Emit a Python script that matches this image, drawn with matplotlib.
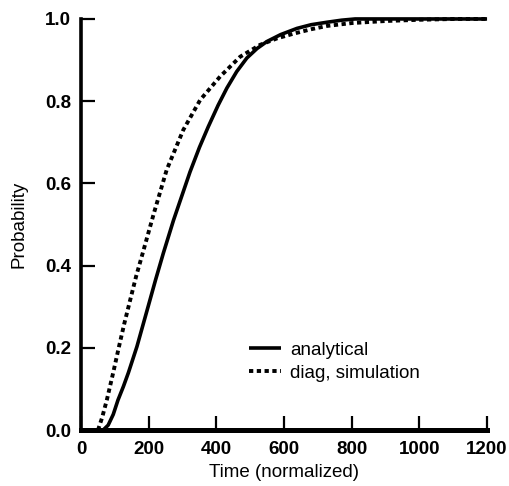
import matplotlib
matplotlib.use("Agg")
from matplotlib import pyplot as plt

# values
t_analytical = [65, 80, 95, 109, 125, 140, 165, 198, 220, 243, 273, 300, 322, 350, 376,
                405, 431, 460, 490, 520, 549, 590, 638, 680, 727, 770, 810, 900, 1000,
                1100, 1200]
p_analytical = [0.0, 0.012, 0.038, 0.073, 0.106, 0.14, 0.203, 0.30, 0.365, 0.43, 0.51,
                0.575, 0.628, 0.688, 0.738, 0.79, 0.832, 0.872, 0.905, 0.928, 0.945,
                0.962, 0.977, 0.986, 0.992, 0.997, 1.0, 1.0, 1.0, 1.0, 1.0]

t_sim = [50, 62, 76, 95, 112, 128, 145, 163, 182, 215, 253, 302, 352, 411, 470, 529,
         580, 627, 680, 727, 800, 900, 1000, 1105, 1200]
p_sim = [0.0, 0.03, 0.073, 0.14, 0.203, 0.26, 0.316, 0.375, 0.43, 0.527, 0.633, 0.730,
         0.803, 0.860, 0.908, 0.937, 0.953, 0.964, 0.975, 0.983, 0.990, 0.995, 0.998,
         1.0, 1.0]

x_ticks = [0, 200, 400, 600, 800, 1000, 1200]
y_ticks = [0.0, 0.2, 0.4, 0.6, 0.8, 1.0]


def main():
    plt.rcParams["font.family"] = ["Liberation Sans", "DejaVu Sans"]
    fig = plt.figure(figsize=(5.10, 4.86), dpi=100)
    ax = fig.add_axes([0.159, 0.115, 0.796, 0.846])

    ax.plot(t_analytical, p_analytical, "-", color="black", lw=2.6,
            label="analytical", clip_on=False, solid_capstyle="butt")
    ax.plot(t_sim, p_sim, color="black", lw=2.8, linestyle=(0, (1.1, 0.9)),
            label="diag, simulation", clip_on=False)

    ax.set_xlim(0, 1200)
    ax.set_ylim(0, 1.0)
    ax.set_xticks(x_ticks)
    ax.set_yticks(y_ticks)
    ax.set_xticklabels([str(v) for v in x_ticks], fontweight="bold", fontsize=13.5)
    ax.set_yticklabels(["%.1f" % v for v in y_ticks], fontweight="bold", fontsize=13.5)
    ax.tick_params(direction="in", length=10, width=1.6)
    ax.tick_params(axis="x", pad=8)
    ax.tick_params(axis="y", pad=7)

    for side in ["top", "right"]:
        ax.spines[side].set_visible(False)
    ax.spines["left"].set_linewidth(2.6)
    ax.spines["bottom"].set_linewidth(3.6)

    ax.set_xlabel("Time (normalized)", fontsize=13.5, labelpad=4)
    ax.set_ylabel("Probability", fontsize=13.5, labelpad=13)

    ax.legend(loc="lower left", bbox_to_anchor=(0.39, 0.095), frameon=False,
              fontsize=13.5, handlelength=1.7, handletextpad=0.5,
              borderpad=0, labelspacing=0.3)

    fig.savefig("out.png", dpi=100)


if __name__ == "__main__":
    main()
